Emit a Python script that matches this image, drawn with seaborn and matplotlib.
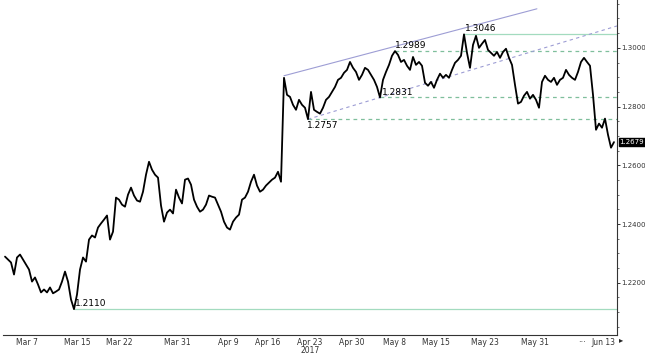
import numpy as np
import pandas as pd
import matplotlib
matplotlib.use("Agg")
import matplotlib.pyplot as plt
import matplotlib.transforms as mtransforms
from matplotlib.ticker import FixedLocator, MultipleLocator
import seaborn as sns

# GBP/USD-style close series, Mar 3 -> Jun 14 2017 (one point per bar)
price = [
    1.2289, 1.2279, 1.2269, 1.2228, 1.2286, 1.2296, 1.2279, 1.2262, 1.2245, 1.2204,
    1.2218, 1.2194, 1.2167, 1.2177, 1.2167, 1.2184, 1.2164, 1.2170, 1.2177, 1.2204,
    1.2238, 1.2204, 1.2143, 1.2110, 1.2160, 1.2245, 1.2286, 1.2272, 1.2347, 1.2361,
    1.2354, 1.2388, 1.2402, 1.2415, 1.2429, 1.2347, 1.2374, 1.2490, 1.2483, 1.2466,
    1.2459, 1.2500, 1.2524, 1.2497, 1.2480, 1.2476, 1.2510, 1.2568, 1.2612, 1.2585,
    1.2568, 1.2558, 1.2463, 1.2408, 1.2439, 1.2449, 1.2436, 1.2517, 1.2490, 1.2470,
    1.2551, 1.2555, 1.2534, 1.2483, 1.2459, 1.2442, 1.2449, 1.2466, 1.2497, 1.2493,
    1.2490, 1.2466, 1.2442, 1.2408, 1.2388, 1.2381, 1.2408, 1.2422, 1.2432, 1.2483,
    1.2490, 1.2510, 1.2544, 1.2568, 1.2531, 1.2510, 1.2517, 1.2531, 1.2541, 1.2551,
    1.2558, 1.2578, 1.2544, 1.2898, 1.2840, 1.2833, 1.2806, 1.2789, 1.2823, 1.2806,
    1.2796, 1.2757, 1.2850, 1.2789, 1.2782, 1.2776, 1.2796, 1.2823, 1.2833, 1.2850,
    1.2867, 1.2891, 1.2898, 1.2915, 1.2925, 1.2952, 1.2932, 1.2918, 1.2891, 1.2908,
    1.2932, 1.2925, 1.2908, 1.2891, 1.2867, 1.2831, 1.2891, 1.2918, 1.2942, 1.2973,
    1.2989, 1.2976, 1.2952, 1.2959, 1.2939, 1.2925, 1.2969, 1.2942, 1.2952, 1.2939,
    1.2881, 1.2871, 1.2884, 1.2864, 1.2891, 1.2912, 1.2898, 1.2908, 1.2898, 1.2925,
    1.2949, 1.2959, 1.2973, 1.3046, 1.2983, 1.2932, 1.3010, 1.3041, 1.3000, 1.3014,
    1.3027, 1.2993, 1.2983, 1.2973, 1.2986, 1.2966, 1.2986, 1.2997, 1.2966, 1.2942,
    1.2874, 1.2810, 1.2816, 1.2837, 1.2850, 1.2827, 1.2840, 1.2823, 1.2796, 1.2884,
    1.2905, 1.2891, 1.2884, 1.2898, 1.2874, 1.2891, 1.2898, 1.2925, 1.2908, 1.2898,
    1.2891, 1.2918, 1.2952, 1.2966, 1.2952, 1.2939, 1.2840, 1.2721, 1.2742, 1.2728,
    1.2759, 1.2704, 1.2660, 1.2679,
]

# date axis labels and the bar they fall on
date_labels = ["Mar 7", "Mar 15", "Mar 22", "Mar 31", "Apr 9", "Apr 16", "Apr 23\n2017",
               "Apr 30", "May 8", "May 15", "May 23", "May 31", "Jun 13"]
date_pos = [7.3, 24, 38, 57.3, 74.3, 87.7, 101.7, 115.7, 129.7, 143.7, 160, 176.7, 199.3]

# marked levels: (value, bar where it starts)
low_1 = (1.2110, 23)
lvl_1 = (1.2757, 101)
lvl_2 = (1.2831, 125)
lvl_3 = (1.2989, 130)
high_1 = (1.3046, 153)
last_price = 1.2679

# upper channel line anchors (bar, value)
upper_a = (93, 1.2905)
upper_b = (177.3, 1.3133)

df = pd.DataFrame({"bar": np.arange(len(price)), "close": price})

sns.set_style("white")
plt.rcParams["font.family"] = ["Liberation Sans Narrow", "DejaVu Sans"]

fig = plt.figure(figsize=(6.45, 3.57), dpi=100)
ax = fig.add_axes([3 / 645, 22 / 357, 614 / 645, 335 / 357])

xmax = 204
ax.set_xlim(-0.67, xmax)
ax.set_ylim(1.2022, 1.3163)

sns.lineplot(data=df, x="bar", y="close", ax=ax, color="black", lw=1.3, zorder=5)

green_dash = "#7fbf9c"
green_solid = "#a3dbbf"
purple = "#9d9dd4"

# horizontal levels
ax.hlines(low_1[0], low_1[1], xmax, color=green_solid, lw=0.9)
ax.hlines(high_1[0], high_1[1], xmax, color=green_solid, lw=0.9)
for v, start in [lvl_1, lvl_2, lvl_3]:
    ax.hlines(v, start, xmax, color=green_dash, lw=0.9, linestyles=(0, (3, 3)))

# upper trend line (solid) and lower trend line (dashed, through the two lows)
ax.plot([upper_a[0], upper_b[0]], [upper_a[1], upper_b[1]], color=purple, lw=0.8)
slope = (lvl_2[0] - lvl_1[0]) / (lvl_2[1] - lvl_1[1])
ax.plot([lvl_1[1], xmax], [lvl_1[0], lvl_1[0] + slope * (xmax - lvl_1[1])],
        color=purple, lw=0.8, ls=(0, (3, 3)))

# level labels
lab_kw = dict(fontsize=6.5, color="black", zorder=6)
ax.text(low_1[1] + 0.3, low_1[0] + 0.0004, "1.2110", ha="left", va="bottom", **lab_kw)
ax.text(lvl_1[1] - 0.3, lvl_1[0] - 0.0005, "1.2757", ha="left", va="top", **lab_kw)
ax.text(lvl_2[1] + 0.5, lvl_2[0] + 0.0002, "1.2831", ha="left", va="bottom", **lab_kw)
ax.text(lvl_3[1], lvl_3[0] + 0.0003, "1.2989", ha="left", va="bottom", **lab_kw)
ax.text(high_1[1] + 0.3, high_1[0] + 0.0003, "1.3046", ha="left", va="bottom", **lab_kw)

# axes styling
for s in ["top", "left"]:
    ax.spines[s].set_visible(False)
ax.spines["right"].set_color("#333333")
ax.spines["bottom"].set_color("#333333")
ax.spines["right"].set_linewidth(0.8)
ax.spines["bottom"].set_linewidth(0.8)

ax.yaxis.tick_right()
ax.set_yticks([1.22, 1.24, 1.26, 1.28, 1.30])
ax.set_yticklabels(["1.2200", "1.2400", "1.2600", "1.2800", "1.3000"])
ax.yaxis.set_minor_locator(MultipleLocator(0.005))
ax.tick_params(axis="y", which="major", direction="out", length=2.5, width=0.7,
               labelsize=5, pad=0.5, colors="#333333")
ax.tick_params(axis="y", which="minor", direction="out", length=1.5, width=0.6, colors="#555555")

ax.xaxis.set_major_locator(FixedLocator(date_pos))
ax.set_xticklabels(date_labels, linespacing=0.95)
ax.xaxis.set_minor_locator(MultipleLocator(3.4))
ax.tick_params(axis="x", which="major", direction="inout", length=3, width=0.7,
               labelsize=5.5, pad=0.5, colors="#333333")
ax.tick_params(axis="x", which="minor", direction="inout", length=2, width=0.6, colors="#555555")
ax.set_xlabel("")
ax.set_ylabel("")

# ellipsis before last date and scroll arrow
ax.text(192.3, 1.2022, "...", ha="center", va="top", fontsize=6)
trans = mtransforms.blended_transform_factory(ax.transAxes, ax.transData)
ax.text(1.004, 1.2022, "\u25b8", transform=trans, ha="left", va="top", fontsize=6)

# last price tag
ax.text(1.004, last_price, "1.2679", transform=trans, ha="left", va="center",
        fontsize=5, color="white",
        bbox=dict(boxstyle="square,pad=0.1", fc="black", ec="black"))

fig.savefig("out.png", dpi=100)
